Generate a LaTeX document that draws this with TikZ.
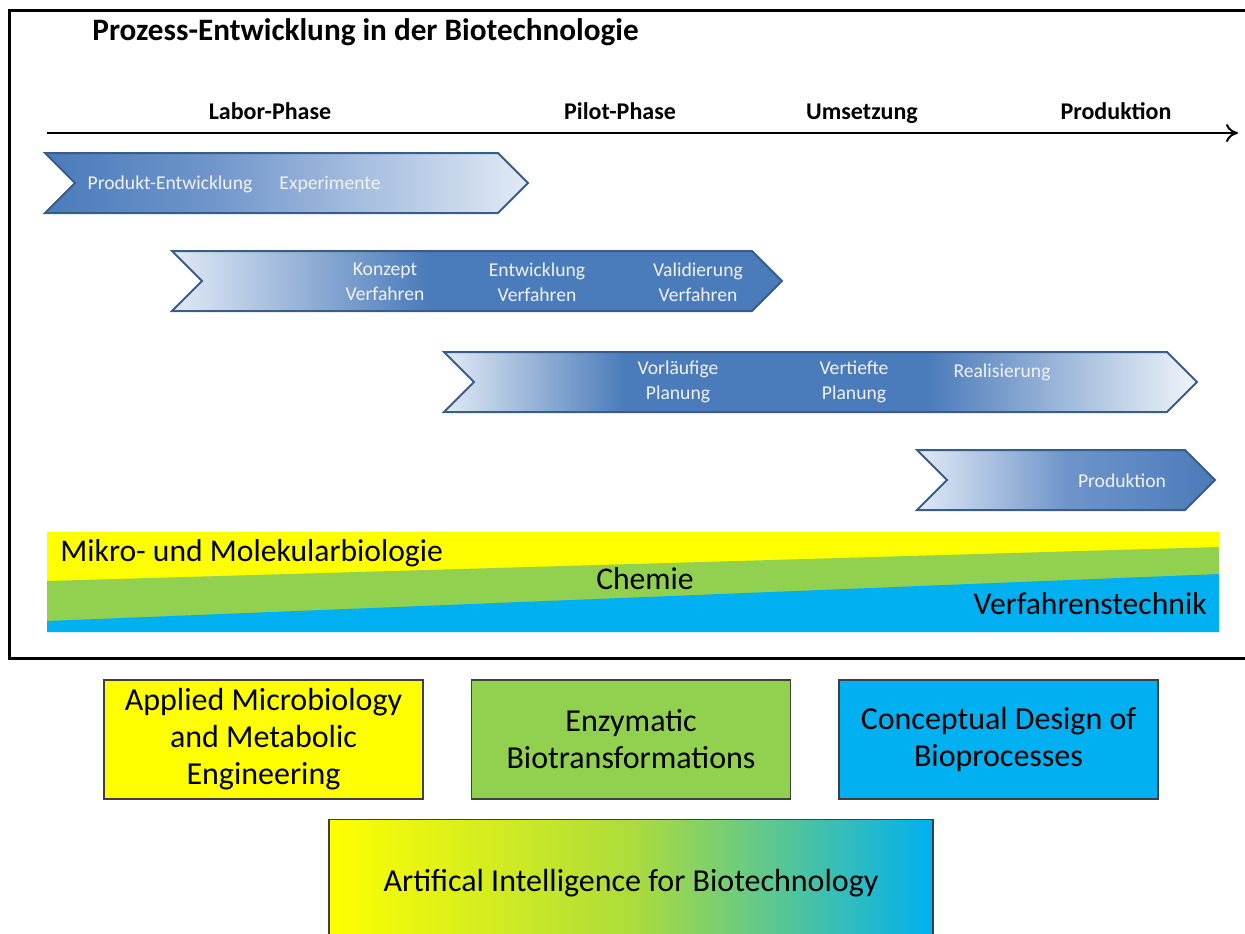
\documentclass[tikz,border=0pt]{standalone}
\usepackage{fontspec}
\setmainfont{Carlito}
\usepackage{xcolor}
\usetikzlibrary{arrows.meta}
\usetikzlibrary{positioning}

\definecolor{chevdark}{HTML}{4A7BBA}
\definecolor{chevmid}{HTML}{6F95CB}
\definecolor{chevlight}{HTML}{E2EAF5}
\definecolor{chevline}{HTML}{385D8A}
\definecolor{chevtext}{HTML}{F2F2F2}
\definecolor{bandyellow}{HTML}{FFFF00}
\definecolor{bandgreen}{HTML}{92D050}
\definecolor{bandblue}{HTML}{00B0F0}
\definecolor{boxline}{HTML}{3F3F3F}

% the path box is mapped onto 25bp..75bp of each shading
\pgfdeclarehorizontalshading{labshade}{100bp}{color(0bp)=(chevdark); color(25bp)=(chevdark);
  color(42bp)=(chevmid); color(75bp)=(chevlight); color(100bp)=(chevlight)}
\pgfdeclarehorizontalshading{konzshade}{100bp}{color(0bp)=(chevlight); color(25bp)=(chevlight);
  color(46bp)=(chevdark); color(75bp)=(chevdark); color(100bp)=(chevdark)}
\pgfdeclarehorizontalshading{umsshade}{100bp}{color(0bp)=(chevlight); color(25bp)=(chevlight);
  color(37bp)=(chevdark); color(57bp)=(chevdark); color(75bp)=(chevlight!50!white); color(100bp)=(white)}
\pgfdeclarehorizontalshading{prodshade}{100bp}{color(0bp)=(chevlight); color(25bp)=(chevlight);
  color(50bp)=(chevmid); color(75bp)=(chevdark); color(100bp)=(chevdark)}
\pgfdeclarehorizontalshading{aishade}{100bp}{color(0bp)=(bandyellow); color(25bp)=(bandyellow);
  color(50bp)=(bandgreen!75!yellow); color(75bp)=(bandblue); color(100bp)=(bandblue)}

% one arrow of the time line: shading, left x, right x, top y
\newcommand{\chevshape}[4]{%
  \draw[chev, shading=#1] (#2,#4) -- (#3-30,#4) -- (#3,#4+30) -- (#3-30,#4+60)
    -- (#2,#4+60) -- (#2+30,#4+30) -- cycle;}

\begin{document}
\begin{tikzpicture}[x=0.5pt,y=-0.5pt,
    chev/.style={draw=chevline, line width=1pt},
    chevtxt/.style={text=chevtext, font=\fontsize{9.8}{12.5}\selectfont, align=center},
    phase/.style={anchor=base, font=\fontsize{12}{14}\selectfont\bfseries},
    band/.style={inner sep=0pt, font=\fontsize{15.8}{18}\selectfont},
    group/.style={draw=boxline, line width=0.75pt, minimum width=159.5pt, minimum height=59.5pt,
        align=center, font=\fontsize{16}{18.5}\selectfont}]
    \useasboundingbox (0,0) rectangle (1245,933);

    % frame, open to the right
    \draw[line width=1.5pt] (1260,10) -- (9,10) -- (9,658) -- (1260,658);

    \node[anchor=base west, inner sep=0pt, font=\fontsize{15.6}{18}\selectfont\bfseries] (title) at (92,40)
        {Prozess-Entwicklung in der Biotechnologie};

    % time line
    \node[phase] (labor) at (270,119) {Labor-Phase};
    \node[phase] (pilot) at (620,119) {Pilot-Phase};
    \node[phase] (umsetz) at (862,119) {Umsetzung};
    \node[phase] (prod) at (1116,119) {Produktion};
    \coordinate (t0) at (47,133);
    \coordinate (t1) at (1238,133);
    \draw[line width=1pt, -{To[length=6pt,width=9pt]}] (t0) -- (t1);

    \chevshape{labshade}{45}{528}{153}
    \chevshape{konzshade}{172}{782}{251}
    \chevshape{umsshade}{444}{1197}{352}
    \chevshape{prodshade}{917}{1215}{450}

    \node[chevtxt] (pe) at (170,184) {Produkt-Entwicklung};
    \node[chevtxt] (exp) at (330,184) {Experimente};
    \node[chevtxt] (kv) at (385,282) {Konzept\\Verfahren};
    \node[chevtxt] (ev) at (537,282) {Entwicklung\\Verfahren};
    \node[chevtxt] (vv) at (698,282) {Validierung\\Verfahren};
    \node[chevtxt] (vp) at (678,382) {Vorläufige\\Planung};
    \node[chevtxt] (tp) at (854,382) {Vertiefte\\Planung};
    \node[chevtxt] (real) at (1002,372) {Realisierung};
    \node[chevtxt] (pr) at (1122,481) {Produktion};

    % disciplines
    \fill[bandyellow] (47,532) rectangle (1219,632);
    \fill[bandgreen] (47,581) -- (1219,547) -- (1219,632) -- (47,632) -- cycle;
    \fill[bandblue] (47,621) -- (1219,574) -- (1219,632) -- (47,632) -- cycle;
    \node[band, anchor=base west] (bio) at (60,561) {Mikro- und Molekularbiologie};
    \node[band, anchor=base] (chem) at (645,589) {Chemie};
    \node[band, anchor=base east] (vt) at (1207,614) {Verfahrenstechnik};

    % groups
    \node[group, fill=bandyellow] (amme) at (263.5,739.5) {Applied Microbiology\\and Metabolic\\Engineering};
    \node[group, fill=bandgreen, right=23.5pt of amme] (enz) {Enzymatic\\Biotransformations};
    \node[group, fill=bandblue, right=23.5pt of enz] (cdb) {Conceptual Design of\\Bioprocesses};
    \node[group, shading=aishade, minimum width=302pt, minimum height=63.5pt, below=9.5pt of enz] (aib)
        {Artifical Intelligence for Biotechnology};
\end{tikzpicture}
\end{document}
